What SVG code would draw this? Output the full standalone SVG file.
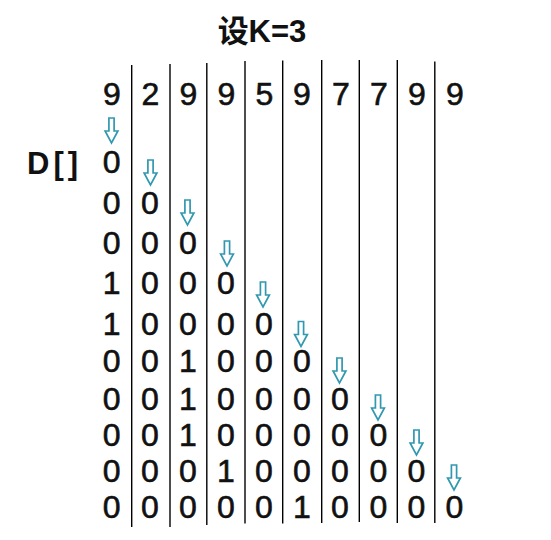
<svg xmlns="http://www.w3.org/2000/svg" xmlns:xlink="http://www.w3.org/1999/xlink" width="551" height="540" viewBox="0 0 551 540">
<style>
.t{font-family:"Liberation Sans","Noto Sans CJK SC",sans-serif;font-weight:bold;font-size:31px;fill:#111}
.n{font-family:"Liberation Sans",Arial,sans-serif;font-size:32px;fill:#111;stroke:#111;stroke-width:0.6;text-anchor:middle}
.l{font-family:"Liberation Sans",Arial,sans-serif;font-weight:bold;font-size:31px;fill:#111;letter-spacing:4px}
.v{stroke:#000;stroke-width:1.4}
.a{fill:#fff;stroke:#3198b0;stroke-width:1.7;stroke-linejoin:miter}
</style>
<defs>
<path id="arr" class="a" d="M-2.6,0 H2.6 V13 H6.4 L0,25 L-6.4,13 H-2.6 Z"/>
</defs>
<rect width="551" height="540" fill="#fff"/>
<g id="title"><text class="t" x="262" y="42" text-anchor="middle">设K=3</text></g>
<g id="label"><text class="l" x="27" y="174">D[]</text></g>
<g id="lines">
<line class="v" x1="131.7" y1="65" x2="131.7" y2="527"/>
<line class="v" x1="170" y1="64" x2="170" y2="527"/>
<line class="v" x1="206.8" y1="63" x2="206.8" y2="525"/>
<line class="v" x1="245" y1="61" x2="245" y2="523.5"/>
<line class="v" x1="282.7" y1="60.5" x2="282.7" y2="523.5"/>
<line class="v" x1="321.7" y1="60" x2="321.7" y2="523"/>
<line class="v" x1="359.3" y1="60" x2="359.3" y2="522"/>
<line class="v" x1="397.3" y1="60" x2="397.3" y2="523"/>
<line class="v" x1="434.8" y1="61.5" x2="434.8" y2="523"/>
</g>
<g id="header">
<text class="n" x="112" y="105">9</text>
<text class="n" x="150.5" y="105">2</text>
<text class="n" x="188.5" y="105">9</text>
<text class="n" x="226.5" y="105">9</text>
<text class="n" x="264.5" y="105">5</text>
<text class="n" x="302" y="105">9</text>
<text class="n" x="341" y="105">7</text>
<text class="n" x="379" y="105">7</text>
<text class="n" x="417" y="105">9</text>
<text class="n" x="455" y="105">9</text>
</g>
<g id="arrows">
<use xlink:href="#arr" x="111.5" y="118"/>
<use xlink:href="#arr" x="150.5" y="160"/>
<use xlink:href="#arr" x="187.5" y="200"/>
<use xlink:href="#arr" x="227" y="241"/>
<use xlink:href="#arr" x="263" y="282"/>
<use xlink:href="#arr" x="301" y="321.5"/>
<use xlink:href="#arr" x="339.5" y="358"/>
<use xlink:href="#arr" x="378" y="395"/>
<use xlink:href="#arr" x="416.5" y="430"/>
<use xlink:href="#arr" x="454" y="465"/>
</g>
<g id="row1"><text class="n" y="173"><tspan x="111.7">0</tspan></text></g>
<g id="row2"><text class="n" y="214"><tspan x="111.7">0</tspan><tspan x="150">0</tspan></text></g>
<g id="row3"><text class="n" y="254"><tspan x="111.7">0</tspan><tspan x="150">0</tspan><tspan x="188">0</tspan></text></g>
<g id="row4"><text class="n" y="294"><tspan x="111.7">1</tspan><tspan x="150">0</tspan><tspan x="188">0</tspan><tspan x="226">0</tspan></text></g>
<g id="row5"><text class="n" y="334.5"><tspan x="111.7">1</tspan><tspan x="150">0</tspan><tspan x="188">0</tspan><tspan x="226">0</tspan><tspan x="264">0</tspan></text></g>
<g id="row6"><text class="n" y="372"><tspan x="111.7">0</tspan><tspan x="150">0</tspan><tspan x="188">1</tspan><tspan x="226">0</tspan><tspan x="264">0</tspan><tspan x="302">0</tspan></text></g>
<g id="row7"><text class="n" y="410"><tspan x="111.7">0</tspan><tspan x="150">0</tspan><tspan x="188">1</tspan><tspan x="226">0</tspan><tspan x="264">0</tspan><tspan x="302">0</tspan><tspan x="340">0</tspan></text></g>
<g id="row8"><text class="n" y="446"><tspan x="111.7">0</tspan><tspan x="150">0</tspan><tspan x="188">1</tspan><tspan x="226">0</tspan><tspan x="264">0</tspan><tspan x="302">0</tspan><tspan x="340">0</tspan><tspan x="378.3">0</tspan></text></g>
<g id="row9"><text class="n" y="482"><tspan x="111.7">0</tspan><tspan x="150">0</tspan><tspan x="188">0</tspan><tspan x="226">1</tspan><tspan x="264">0</tspan><tspan x="302">0</tspan><tspan x="340">0</tspan><tspan x="378.3">0</tspan><tspan x="416.5">0</tspan></text></g>
<g id="row10"><text class="n" y="518"><tspan x="111.7">0</tspan><tspan x="150">0</tspan><tspan x="188">0</tspan><tspan x="226">0</tspan><tspan x="264">0</tspan><tspan x="302">1</tspan><tspan x="340">0</tspan><tspan x="378.3">0</tspan><tspan x="416.5">0</tspan><tspan x="454.3">0</tspan></text></g>
</svg>
